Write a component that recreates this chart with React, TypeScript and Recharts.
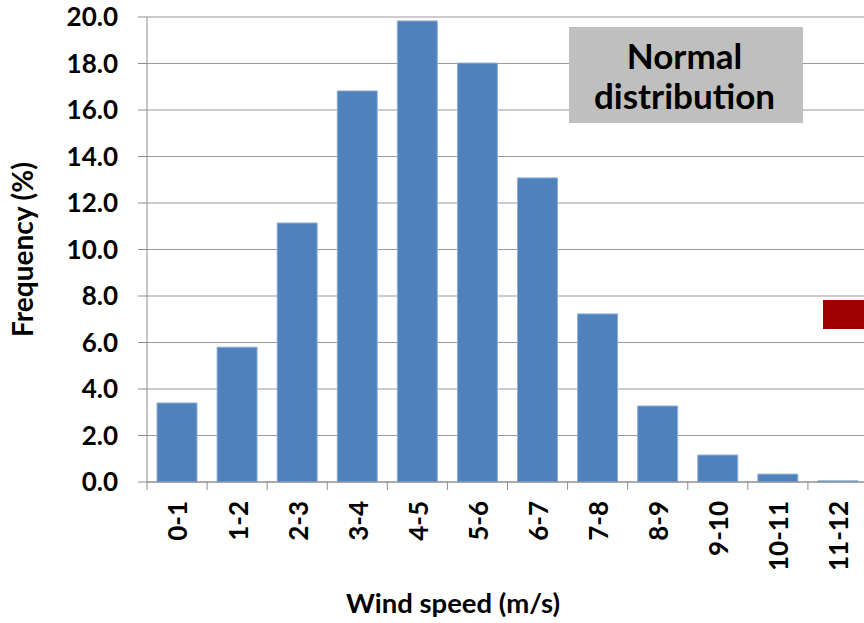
import React from "react";
import { BarChart, Bar, XAxis, YAxis, CartesianGrid } from "recharts";

const categories = ["0-1", "1-2", "2-3", "3-4", "4-5", "5-6", "6-7", "7-8", "8-9", "9-10", "10-11", "11-12"];
const frequency = [3.4, 5.8, 11.14, 16.82, 19.83, 18.02, 13.08, 7.23, 3.27, 1.16, 0.34, 0.05];
const yTicks = [0, 2, 4, 6, 8, 10, 12, 14, 16, 18, 20];
const boxLines = ["Normal", "distribution"];
const xTitle = "Wind speed (m/s)";
const yTitle = "Frequency (%)";

const data = categories.map((c, i) => ({ range: c, freq: frequency[i] }));

const FONT = "Lato, 'Open Sans', sans-serif";
const CHART_W = 872;
const CHART_H = 623;
const Y_AXIS_W = 147;
const MARGIN = { top: 17, right: 4, left: 0, bottom: 0 };
const PLOT_W = CHART_W - MARGIN.left - MARGIN.right - Y_AXIS_W;
const BAND = PLOT_W / categories.length;
const AXIS_GRAY = "#8C8C8C";

const XTick = (props: any) => {
  const { x, y, payload, index } = props;
  const half = BAND / 2;
  return (
    <g>
      <line x1={x - half} x2={x - half} y1={y} y2={y + 8} stroke={AXIS_GRAY} strokeWidth={1} />
      {index === categories.length - 1 && (
        <line x1={x + half} x2={x + half} y1={y} y2={y + 8} stroke={AXIS_GRAY} strokeWidth={1} />
      )}
      <g transform={`translate(${x + 1},${y + 19}) rotate(-90)`}>
        <text
          x={0}
          y={0}
          dy="0.36em"
          textAnchor="end"
          fontFamily={FONT}
          fontWeight={700}
          fontSize={26}
          fill="#000"
        >
          {payload.value}
        </text>
      </g>
    </g>
  );
};

const XTitle = (props: any) => {
  const vb = props.viewBox || {};
  const baseY = (vb.y ?? 482) + 120;
  return (
    <text
      x={453}
      y={baseY}
      textAnchor="middle"
      dominantBaseline="central"
      fontFamily={FONT}
      fontWeight={700}
      fontSize={27.5}
      fill="#000"
    >
      {xTitle}
    </text>
  );
};

const YTitle = (props: any) => {
  const vb = props.viewBox || {};
  const cy = vb.y != null && vb.height != null ? vb.y + vb.height / 2 : 250;
  const cx = 22;
  return (
    <text
      x={cx}
      y={cy}
      transform={`rotate(-90, ${cx}, ${cy})`}
      textAnchor="middle"
      dominantBaseline="central"
      fontFamily={FONT}
      fontWeight={700}
      fontSize={28}
      fill="#000"
    >
      {yTitle}
    </text>
  );
};

export default function App() {
  return (
    <div
      style={{
        position: "absolute",
        left: 0,
        top: 0,
        width: 864,
        height: 623,
        overflow: "hidden",
        background: "#fff",
      }}
    >
      <BarChart width={CHART_W} height={CHART_H} data={data} margin={MARGIN}>
        <CartesianGrid vertical={false} stroke="#9A9A9A" strokeWidth={1.2} />
        <XAxis
          dataKey="range"
          height={CHART_H - 482}
          axisLine={{ stroke: AXIS_GRAY }}
          tickLine={false}
          tickSize={0}
          tickMargin={0}
          interval={0}
          tick={<XTick />}
          label={<XTitle />}
        />
        <YAxis
          width={Y_AXIS_W}
          domain={[0, 20]}
          ticks={yTicks}
          interval={0}
          tickFormatter={(v: number) => v.toFixed(1)}
          axisLine={{ stroke: AXIS_GRAY }}
          tickLine={{ stroke: AXIS_GRAY }}
          tickSize={9}
          tickMargin={20}
          tick={{ fontFamily: FONT, fontWeight: 700, fontSize: 26, fill: "#000" }}
          label={<YTitle />}
        />
        <Bar
          dataKey="freq"
          fill="#4F81BD"
          stroke="#8FB0D8"
          strokeWidth={1}
          barSize={40}
          isAnimationActive={false}
        />
      </BarChart>
      <div
        style={{
          position: "absolute",
          left: 569,
          top: 27,
          width: 234,
          height: 96,
          background: "#BFBFBF",
          fontFamily: FONT,
          fontWeight: 700,
          fontSize: 35,
          lineHeight: "40px",
          color: "#000",
          textAlign: "center",
          display: "flex",
          flexDirection: "column",
          justifyContent: "center",
          boxSizing: "border-box",
        }}
      >
        {boxLines.map((l) => (
          <div key={l} style={{ marginLeft: -3 }}>{l}</div>
        ))}
      </div>
      <div
        style={{
          position: "absolute",
          left: 823,
          top: 300,
          width: 50,
          height: 29,
          background: "#9C0000",
        }}
      />
    </div>
  );
}
